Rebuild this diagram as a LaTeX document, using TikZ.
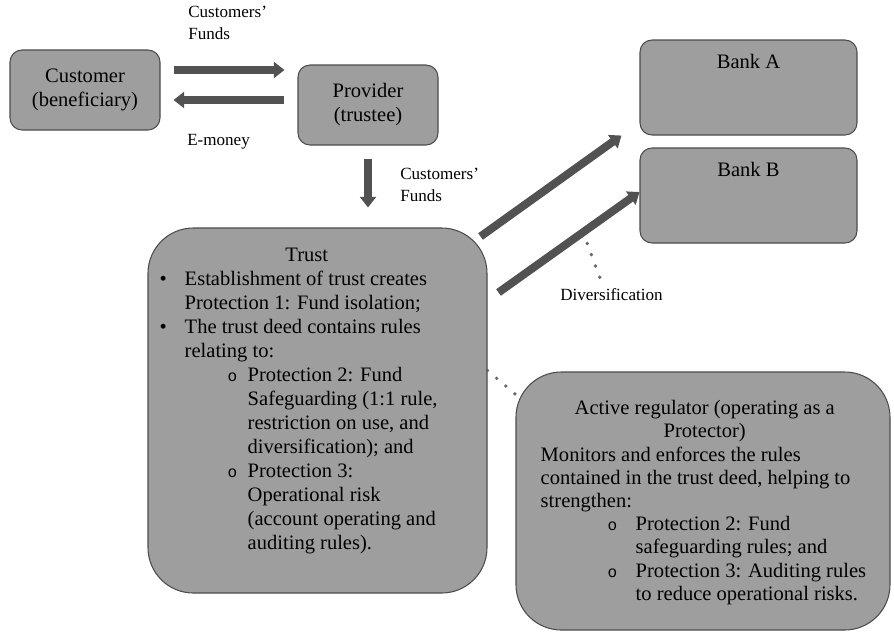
\documentclass[tikz,border=0pt]{standalone}
\usepackage{fontspec}
\setmainfont{Liberation Serif}
\newfontfamily\ringfont{Liberation Mono}
\usetikzlibrary{positioning,arrows.meta,calc}

\newcommand{\dotbul}{\makebox[18.75pt][l]{\textbullet}}
\newcommand{\ringbul}[2]{\hspace*{#1}\makebox[#2][l]{\ringfont\fontsize{12}{12}\selectfont o}}

\begin{document}
\begin{tikzpicture}[
    x=0.75pt, y=-0.75pt,
    box/.style={draw=black!70, fill=black!38, line width=0.8pt, rounded corners=9pt},
    bigbox/.style={box, rounded corners=34pt},
    main text/.style={font=\fontsize{15.4}{18}\selectfont},
    bankbox/.style={box, main text, minimum width=162.75pt, inner ysep=0pt, text height=21pt, text depth=50.25pt},
    small label/.style={font=\fontsize{12.8}{16.5}\selectfont, align=left, inner sep=0pt},
    fat arrow/.style={line width=6pt, draw=black!68, -{Triangle[width=12pt,length=8pt]}},
    dot line/.style={draw=black!60, line width=2.8pt, line cap=round, dash pattern=on 0pt off 9pt}
]
\useasboundingbox (0,0) rectangle (894,633);

% boxes
\node[box, main text, align=center, minimum width=112.5pt, minimum height=60pt] (cust) at (85,90) {Customer\\(beneficiary)};
\node[box, main text, align=center, minimum width=105pt, minimum height=60pt] (prov) at (368,105) {Provider\\(trustee)};
\node[bankbox] (bankA) at (748.5,87.5) {Bank A};
\node[bankbox] (bankB) at (748.5,195.5) {Bank B};
\node[bigbox, minimum width=254.25pt, minimum height=273.75pt] (trust) at (317.5,410.5) {};
\node[bigbox, minimum width=280.5pt, minimum height=193.5pt] (reg) at (703,501) {};

% box texts
\node[main text, align=left, inner sep=0pt, anchor=north west] (trusttext)
    at ([xshift=9pt,yshift=-15pt]trust.north west)
    {\makebox[220.5pt][c]{Trust}\\
     \dotbul Establishment of trust creates\\
     \hspace*{18.75pt}Protection 1: Fund isolation;\\
     \dotbul The trust deed contains rules\\
     \hspace*{18.75pt}relating to:\\
     \ringbul{51pt}{15pt}Protection 2: Fund\\
     \hspace*{66pt}Safeguarding (1:1 rule,\\
     \hspace*{66pt}restriction on use, and\\
     \hspace*{66pt}diversification); and\\
     \ringbul{51pt}{15pt}Protection 3:\\
     \hspace*{66pt}Operational risk\\
     \hspace*{66pt}(account operating and\\
     \hspace*{66pt}auditing rules).};
\node[font=\fontsize{15.4}{17.4}\selectfont, align=left, inner sep=0pt, anchor=north west] (regtext)
    at ([xshift=18.75pt,yshift=-21.5pt]reg.north west)
    {\makebox[246pt][c]{Active regulator (operating as a}\\
     \makebox[246pt][c]{Protector)}\\
     Monitors and enforces the rules\\
     contained in the trust deed, helping to\\
     strengthen:\\
     \ringbul{50.25pt}{21pt}Protection 2: Fund\\
     \hspace*{71.25pt}safeguarding rules; and\\
     \ringbul{50.25pt}{21pt}Protection 3: Auditing rules\\
     \hspace*{71.25pt}to reduce operational risks.};

% labels
\node[small label, anchor=north west] (fundsA) at (188,6) {Customers’\\Funds};
\node[small label, anchor=base west] (emoney) at (187,145) {E-money};
\node[small label, anchor=north west] (fundsB) at (400,168) {Customers’\\Funds};
\node[small label, anchor=base] (div) at (611.5,300) {Diversification};

% arrows
\draw[fat arrow, shorten <=9.75pt, shorten >=9.75pt] ([yshift=15pt]cust.east) -- ([yshift=15pt]cust.east -| prov.west);
\draw[fat arrow, shorten <=9.75pt, shorten >=9.75pt] ([yshift=-7.5pt]cust.east -| prov.west) -- ([yshift=-7.5pt]cust.east);
\draw[fat arrow, shorten <=9.75pt, shorten >=15pt] (prov.south) -- (prov.south |- trust.north);
\coordinate (tailA) at ([xshift=-5.25pt,yshift=-6.75pt]trust.north east);
\coordinate (tailB) at ([xshift=8.25pt,yshift=-48.75pt]trust.north east);
\draw[fat arrow] (tailA) -- ([xshift=-13.5pt]bankA.south west);
\draw[fat arrow] (tailB) -- ([yshift=2.6pt]bankB.west) coordinate[pos=0.6] (divpt);

% dotted links
\draw[dot line, shorten <=9pt] (divpt) -- ([xshift=-6pt]div.north);
\draw[dot line] ([yshift=30pt]trust.east) -- ([yshift=80pt]reg.west);
\end{tikzpicture}
\end{document}
